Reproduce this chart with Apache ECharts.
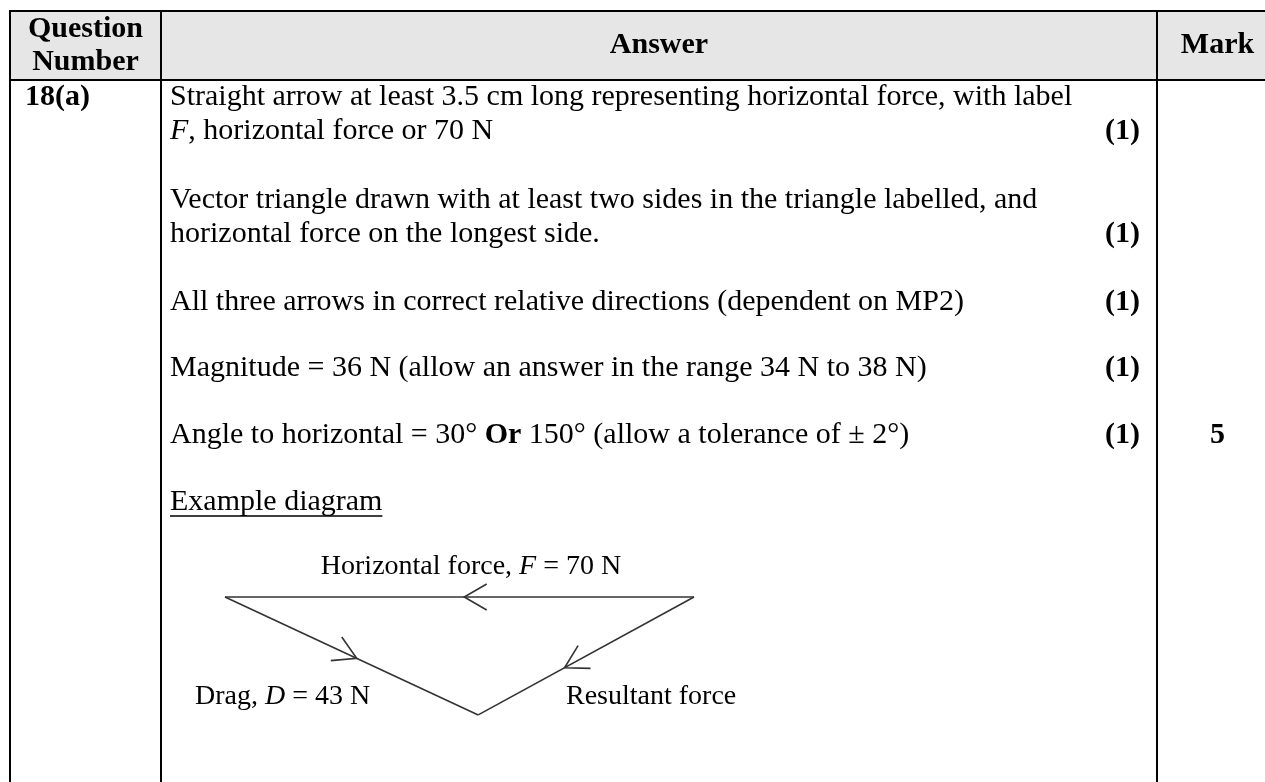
<!DOCTYPE html>
<html>
<head>
<meta charset="utf-8">
<script src="https://cdn.jsdelivr.net/npm/echarts@6/dist/echarts.min.js"></script>
<style>
  html, body { margin: 0; padding: 0; background: #fff; }
  #main { width: 1265px; height: 782px; }
</style>
</head>
<body>
<div id="main"></div>
<script>
// 表头
var headers = ['Question\nNumber', 'Answer', 'Mark'];
var questionNo = '18(a)';
// 评分点，每条可多行
var criteria = [
  ['Straight arrow at least 3.5 cm long representing horizontal force, with label', '{i|F}, horizontal force or 70 N'],
  ['Vector triangle drawn with at least two sides in the triangle labelled, and', 'horizontal force on the longest side.'],
  ['All three arrows in correct relative directions (dependent on MP2)'],
  ['Magnitude = 36 N (allow an answer in the range 34 N to 38 N)'],
  ['Angle to horizontal = 30° {b|Or} 150° (allow a tolerance of ± 2°)']
];
var marks = ['(1)', '(1)', '(1)', '(1)', '(1)'];
var totalMark = '5';
var exampleTitle = 'Example diagram';

// 矢量三角形顶点（单位 N）
var vertexX = [0, 70, 37.8];
var vertexY = [0, 0, -17.6];
// 边：起点、终点、箭头位置
var sideFrom = [1, 0, 1];
var sideTo = [0, 2, 2];
var arrowAt = [0.49, 0.52, 0.6];
var sideLabels = ['Horizontal force, {i|F} = 70 N', 'Drag, {i|D} = 43 N', 'Resultant force'];

var FONT = 'Liberation Serif';
var chartDom = document.getElementById('main');
var myChart = echarts.init(chartDom);

var rich = {
  i: { fontStyle: 'italic', fontSize: 30, fontFamily: FONT, fill: '#000' },
  b: { fontWeight: 'bold', fontSize: 30, fontFamily: FONT, fill: '#000' }
};
var richSmall = {
  i: { fontStyle: 'italic', fontSize: 28, fontFamily: FONT, fill: '#000' }
};

function txt(x, y, text, opt) {
  opt = opt || {};
  var size = opt.size || 30;
  return {
    type: 'text', x: x, y: y, silent: true,
    style: {
      text: text,
      font: (opt.bold ? 'bold ' : '') + size + 'px "' + FONT + '"',
      fill: '#000',
      align: opt.align || 'left', textAlign: opt.align || 'left',
      verticalAlign: 'middle', textVerticalAlign: 'middle',
      lineHeight: opt.lineHeight,
      rich: opt.rich
    }
  };
}
function hline(x1, x2, y, w) {
  return { type: 'line', silent: true, shape: { x1: x1, y1: y, x2: x2, y2: y }, style: { stroke: '#000', lineWidth: w || 2 } };
}
function vline(x, y1, y2, w) {
  return { type: 'line', silent: true, shape: { x1: x, y1: y1, x2: x, y2: y2 }, style: { stroke: '#000', lineWidth: w || 2 } };
}

// 表格位置
var colX = [10, 161, 1157, 1278];
var topY = 11, headY = 80;
var textX = 170, markRight = 1140;
var rowY = [97, 200, 302, 368, 435];
var lineH = 34;
var exampleY = 502;

var measure = document.createElement('canvas').getContext('2d');
measure.font = '30px "' + FONT + '"';
var exampleW = measure.measureText(exampleTitle).width;

var elements = [];
elements.push({ type: 'rect', silent: true, shape: { x: colX[0], y: topY, width: 1300, height: headY - topY }, style: { fill: '#e6e6e6' } });
elements.push(hline(colX[0] - 1, 1265, topY));
elements.push(hline(colX[0] - 1, 1265, headY));
colX.slice(0, 3).forEach(function (x) { elements.push(vline(x, topY - 1, 782)); });

elements.push(txt((colX[0] + colX[1]) / 2, (topY + headY) / 2, headers[0], { bold: true, align: 'center', lineHeight: 33 }));
elements.push(txt((colX[1] + colX[2]) / 2, (topY + headY) / 2, headers[1], { bold: true, align: 'center' }));
elements.push(txt((colX[2] + colX[3]) / 2, (topY + headY) / 2, headers[2], { bold: true, align: 'center' }));

elements.push(txt(25, rowY[0], questionNo, { bold: true }));

criteria.forEach(function (lines, i) {
  lines.forEach(function (line, j) {
    elements.push(txt(textX, rowY[i] + j * lineH, line, { rich: rich }));
  });
  elements.push(txt(markRight, rowY[i] + (lines.length - 1) * lineH, marks[i], { bold: true, align: 'right' }));
});
elements.push(txt((colX[2] + colX[3]) / 2, rowY[rowY.length - 1], totalMark, { bold: true, align: 'center' }));

elements.push(txt(textX, exampleY, exampleTitle));
elements.push({ type: 'line', silent: true, shape: { x1: textX, y1: exampleY + 14, x2: textX + exampleW, y2: exampleY + 14 }, style: { stroke: '#000', lineWidth: 1.5 } });

// 图示标签
elements.push(txt(471, 567, sideLabels[0], { size: 28, align: 'center', rich: richSmall }));
elements.push(txt(195, 697, sideLabels[1], { size: 28, rich: richSmall }));
elements.push(txt(566, 697, sideLabels[2], { size: 28 }));

var sideData = sideFrom.map(function (f, i) {
  var t = sideTo[i];
  return [vertexX[f], vertexY[f], vertexX[t], vertexY[t], arrowAt[i]];
});

var option = {
  backgroundColor: '#fff',
  animation: false,
  grid: { left: 225, top: 597, width: 469, height: 134, containLabel: false },
  xAxis: { type: 'value', min: 0, max: 70, show: false },
  yAxis: { type: 'value', min: -20, max: 0, show: false },
  graphic: { elements: elements },
  series: [
    {
      type: 'custom',
      clip: false,
      silent: true,
      data: sideData,
      renderItem: function (params, api) {
        var p1 = api.coord([api.value(0), api.value(1)]);
        var p2 = api.coord([api.value(2), api.value(3)]);
        var t = api.value(4);
        var tip = [p1[0] + (p2[0] - p1[0]) * t, p1[1] + (p2[1] - p1[1]) * t];
        var back = Math.atan2(p1[1] - p2[1], p1[0] - p2[0]);
        var len = 26, half = Math.PI / 6;
        var a1 = [tip[0] + len * Math.cos(back + half), tip[1] + len * Math.sin(back + half)];
        var a2 = [tip[0] + len * Math.cos(back - half), tip[1] + len * Math.sin(back - half)];
        return {
          type: 'group',
          children: [
            { type: 'line', shape: { x1: p1[0], y1: p1[1], x2: p2[0], y2: p2[1] }, style: { stroke: '#333', lineWidth: 1.6 } },
            { type: 'polyline', shape: { points: [a1, tip, a2] }, style: { stroke: '#333', lineWidth: 1.6, fill: null } }
          ]
        };
      }
    }
  ]
};
option && myChart.setOption(option);
</script>
</body>
</html>
